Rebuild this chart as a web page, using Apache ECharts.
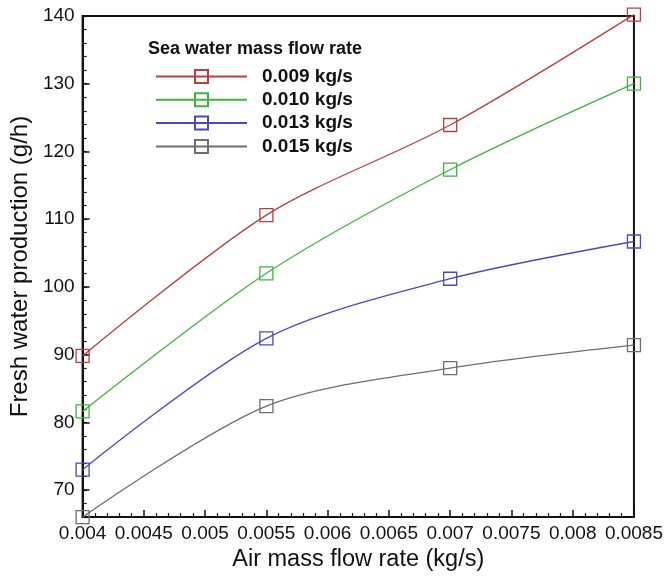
<!DOCTYPE html>
<html>
<head>
<meta charset="utf-8">
<script src="https://cdn.jsdelivr.net/npm/echarts@6/dist/echarts.min.js"></script>
<style>html,body{margin:0;padding:0;background:#fff;}#c{width:666px;height:577px;}</style>
</head>
<body>
<div id="c"></div>
<script>
var airFlow = [0.004, 0.0055, 0.007, 0.0085];
var seriesNames = ['0.009 kg/s', '0.010 kg/s', '0.013 kg/s', '0.015 kg/s'];
var prod009 = [89.8, 110.6, 123.9, 140.2];
var prod010 = [81.6, 102.0, 117.3, 130.0];
var prod013 = [73.0, 92.4, 101.2, 106.7];
var prod015 = [66.0, 82.4, 88.0, 91.4];
var legendTitle = 'Sea water mass flow rate';
var xTitle = 'Air mass flow rate (kg/s)';
var yTitle = 'Fresh water production (g/h)';
var colors = ['#c03c3c', '#3cb43c', '#4848c4', '#6e6e6e'];

var allValues = [prod009, prod010, prod013, prod015];
var font = 'Liberation Sans, Arial, sans-serif';

function pairs(vals) {
  return airFlow.map(function (x, i) { return [x, vals[i]]; });
}

var series = seriesNames.map(function (name, i) {
  return {
    name: name,
    type: 'line',
    data: pairs(allValues[i]),
    smooth: 0.3,
    clip: false,
    symbol: 'rect',
    symbolSize: 13,
    lineStyle: { color: colors[i], width: 1.3 },
    itemStyle: { color: 'transparent', borderColor: colors[i], borderWidth: 1.3 },
    emphasis: { disabled: true },
    xAxisIndex: 0,
    yAxisIndex: 0
  };
});

var chart = echarts.init(document.getElementById('c'), null, { renderer: 'canvas' });
chart.setOption({
  animation: false,
  backgroundColor: '#fff',
  title: {
    text: legendTitle,
    left: 148,
    top: 40,
    padding: 0,
    textStyle: { fontFamily: font, fontSize: 18, fontWeight: 'bold', color: '#111' }
  },
  legend: {
    orient: 'vertical',
    left: 155,
    top: 67,
    padding: 0,
    itemWidth: 91,
    itemHeight: 16.25,
    itemGap: 4.3,
    data: seriesNames,
    textStyle: { fontFamily: font, fontSize: 19, fontWeight: 'bold', color: '#111', lineHeight: 19, padding: [0, 0, 0, 10] }
  },
  grid: {
    left: 76, right: 31, top: 16, bottom: 52,
    show: true, borderColor: '#111', borderWidth: 2, backgroundColor: 'transparent'
  },
  xAxis: {
    type: 'value',
    min: 0.004,
    max: 0.0085,
    interval: 0.0005,
    name: xTitle,
    nameLocation: 'middle',
    nameGap: 23,
    nameTextStyle: { fontFamily: font, fontSize: 23.5, color: '#111', verticalAlign: 'top' },
    axisLine: { show: true, lineStyle: { color: '#111', width: 2 } },
    axisTick: { show: true, inside: true, length: 7, lineStyle: { color: '#111', width: 1.5 } },
    minorTick: { show: true, splitNumber: 5, length: 4, lineStyle: { color: '#111', width: 1.2 } },
    splitLine: { show: false },
    minorSplitLine: { show: false },
    axisLabel: {
      margin: 7,
      fontFamily: font, fontSize: 19, color: '#111',
      formatter: function (v) { return String(+v.toFixed(5)); }
    }
  },
  yAxis: [{
    type: 'value',
    min: 66,
    max: 140,
    interval: 2,
    position: 'left',
    axisLine: { show: true, lineStyle: { color: '#111', width: 2 } },
    axisTick: { show: true, inside: true, length: 4, lineStyle: { color: '#111', width: 1.2 } },
    splitLine: { show: false },
    axisLabel: { show: false }
  }, {
    type: 'value',
    min: 66,
    max: 140,
    splitNumber: 7,
    position: 'left',
    name: yTitle,
    nameLocation: 'middle',
    nameGap: 38.5,
    nameTextStyle: { fontFamily: font, fontSize: 24, color: '#111' },
    axisLine: { show: false },
    axisTick: { show: true, inside: true, length: 7, lineStyle: { color: '#111', width: 1.5 } },
    splitLine: { show: false },
    axisLabel: {
      margin: 8,
      fontFamily: font, fontSize: 19, color: '#111',
      formatter: function (v) { return (Math.abs(v % 10) < 1e-9) ? String(v) : ''; }
    }
  }],
  series: series
});
</script>
</body>
</html>
